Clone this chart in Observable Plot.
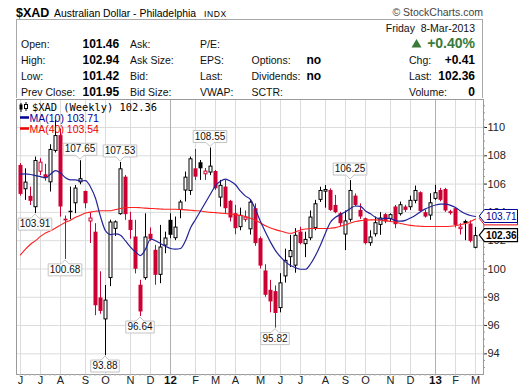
<!DOCTYPE html>
<html><head><meta charset="utf-8">
<script src="https://cdn.jsdelivr.net/npm/d3@7"></script>
<script src="https://cdn.jsdelivr.net/npm/@observablehq/plot@0.6"></script>
<style>
body{margin:0;background:#fff}
#wrap{width:520px;height:391px;position:relative;overflow:hidden;background:#fff}
svg{display:block}
</style></head><body><div id="wrap"></div>
<script>
// ---------- data ----------
const weekStart = "2011-06-06";   // Monday of first weekly candle
const weekEnd = "2013-03-04";     // Monday of last weekly candle
const priorClose = 107.5;
const opens = [107.32,105.60,105.13,104.33,106.84,106.66,106.09,108.31,109.43,103.52,
104.08,104.61,106.09,105.48,103.32,102.6,97.95,96.4,99.32,102.8,
103.84,106.49,103.44,102.26,98.85,99.32,102.45,101.32,99.55,101.62,
103.44,102.14,104.14,105.51,105.48,107.08,107.51,106.66,106.78,106.89,
105.01,105.79,104.78,103.91,102.92,103.44,102.77,104.26,102.14,99.86,
98.49,98.4,97.2,99.44,100.8,100.2,102.61,101.72,102.14,102.85,
104.85,105.43,105.55,104.49,103.91,102.4,103.44,105.15,104.14,103.55,
101.79,102.42,103.08,103.84,103.51,104.38,103.84,104.38,104.33,104.78,
105.39,103.98,103.74,104.92,105.55,105.62,103.91,104.26,102.78,103.36,
103.18,101.46];
const highs = [107.45,107.08,105.79,107.91,107.79,107.4,108.78,110.5,109.9,103.74,
105.79,105.9,107.65,105.5,103.98,103.2,99.8,98.83,103.45,103.4,
107.53,106.6,104.0,103.44,99.2,103.9,102.9,101.67,103.08,102.6,
103.9,103.67,104.85,106.85,107.91,108.45,107.67,107.1,108.55,106.96,
106.26,106.26,104.85,104.5,104.3,104.1,104.9,104.6,102.26,100.3,
99.2,98.8,99.67,101.4,102.38,102.85,102.95,102.6,104.1,104.85,
105.78,105.9,105.66,105.2,104.0,104.1,106.25,105.3,104.6,103.6,
102.7,103.67,103.98,103.91,103.9,104.49,104.73,104.5,105.15,105.86,
105.45,104.14,105.32,105.91,105.7,105.7,104.15,104.3,103.2,103.45,
103.4,102.94];
const lows = [105.15,104.85,104.49,103.91,106.61,106.2,105.44,108.2,103.67,100.68,
103.48,103.91,105.95,104.26,101.8,96.7,96.8,93.88,98.75,102.3,
103.8,103.44,102.1,99.65,96.64,99.2,101.95,98.85,98.96,101.08,
102.14,102.0,103.55,104.73,105.2,106.26,106.26,106.26,106.6,105.55,
104.38,103.91,103.32,102.42,102.7,103.3,102.4,101.6,100.0,98.0,
96.9,95.82,96.9,99.0,100.1,99.7,101.7,100.8,102.0,102.7,
104.7,104.3,104.07,103.91,103.0,101.3,103.3,104.4,103.5,101.7,
101.6,102.26,102.38,103.2,103.3,102.85,103.74,104.0,104.14,104.61,
104.0,103.6,103.44,104.85,104.75,104.0,103.8,102.9,102.4,102.0,
101.85,101.42];
const closes = [105.27,106.14,104.78,107.67,107.55,106.38,108.45,109.43,104.38,103.40,
103.98,105.72,106.38,104.61,103.60,97.4,97.0,97.8,103.32,103.33,
107.08,103.84,102.72,99.98,96.96,102.26,102.09,99.55,101.55,102.19,
102.38,102.96,104.73,106.49,107.79,106.49,107.08,106.92,107.27,105.67,
105.91,104.26,103.6,102.85,103.79,103.67,104.72,101.79,100.2,98.14,
97.67,96.85,99.02,100.61,101.3,102.38,101.79,102.09,103.67,104.61,
105.55,105.62,104.14,103.98,103.2,103.4,105.55,104.49,103.67,101.79,
102.26,103.27,103.6,103.32,103.84,103.13,104.54,104.14,104.85,105.55,
104.07,103.67,104.68,105.39,104.85,104.1,104.05,103.08,102.96,103.2,
101.95,102.36];
const ma10 = [106.7,106.72,106.68,106.6,106.53,106.45,106.7,106.95,106.78,106.45,
106.3,106.3,106.22,106.25,105.8,105.0,103.7,102.7,102.43,102.48,
102.38,101.98,101.55,101.2,100.95,101.4,102.1,102.0,101.8,101.6,
101.45,101.4,101.45,102.0,102.9,103.5,104.1,104.7,105.3,105.9,
106.2,106.35,106.2,105.95,105.5,105.15,104.9,104.2,103.35,102.6,
101.9,101.3,100.85,100.5,100.25,100.1,99.98,99.98,100.35,100.95,
101.7,102.55,103.3,103.65,103.85,104.05,104.28,104.45,104.42,104.1,
103.9,103.65,103.52,103.6,103.55,103.42,103.38,103.44,103.6,103.8,
104.05,104.25,104.4,104.52,104.58,104.58,104.5,104.35,104.1,103.9,
103.78,103.71];
const ma40 = [101.0,101.4,101.75,102.0,102.3,102.55,102.7,102.9,103.1,103.3,
103.45,103.65,103.8,103.95,104.02,104.08,104.12,104.12,104.12,104.2,
104.28,104.33,104.35,104.35,104.33,104.3,104.28,104.26,104.24,104.22,
104.22,104.22,104.2,104.18,104.15,104.12,104.1,104.05,104.0,103.98,
103.95,103.92,103.88,103.84,103.78,103.7,103.58,103.45,103.25,103.05,
102.9,102.78,102.68,102.58,102.52,102.62,102.75,102.82,102.86,102.86,
102.86,102.86,102.88,102.92,103.02,103.12,103.25,103.35,103.42,103.45,
103.47,103.47,103.45,103.42,103.36,103.3,103.22,103.14,103.08,103.04,
103.02,103.0,103.0,103.0,103.0,103.0,103.02,103.06,103.14,103.22,
103.36,103.54];
const yTicks = [94,96,98,100,102,104,106,108,110];
const monthLetters = ["J","F","M","A","M","J","J","A","S","O","N","D"];
const calloutIdx = [3,9,12,17,20,24,38,51,66];
const calloutKind = ["low","low","high","low","high","low","high","low","high"];

// header texts
const headTitle = "$XAD", headName = "Australian Dollar - Philadelphia", headExch = "INDX";
const headDate = "Friday  8-Mar-2013", headPct = "+0.40%";
const col1Labels = ["Open:","High:","Low:","Prev Close:"];
const col1Values = ["101.46","102.94","101.42","101.95"];
const col2Labels = ["Ask:","Ask Size:","Bid:","Bid Size:"];
const col3Labels = ["P/E:","EPS:","Last:","VWAP:"];
const col4Labels = ["","Options:","Dividends:","SCTR:"];
const col4Values = ["","no","no",""];
const col5Labels = ["","Chg:","Last:","Volume:"];
const col5Values = ["","+0.41","102.36","0"];
const legendMain = "$XAD (Weekly) 102.36", legendMA10 = "MA(10) 103.71", legendMA40 = "MA(40) 103.54";
const lastMA10 = 103.71, lastMA40 = 103.54, lastClose = 102.36;

// ---------- derived ----------
const SANS = "'Liberation Sans', Arial, Helvetica, sans-serif";
const RED = "#cc0033", INK = "#000", BLUE = "#22229a", MARED = "#ff1f1f";
const fmtKey = d3.utcFormat("%Y-%m-%d");
const weekKeys = d3.utcMonday.range(new Date(weekStart), d3.utcDay.offset(new Date(weekEnd), 1)).map(fmtKey);
const candles = weekKeys.map((week, i) => ({
  week, open: opens[i], high: highs[i], low: lows[i], close: closes[i],
  ma10: ma10[i], ma40: ma40[i], prev: i ? closes[i - 1] : priorClose
}));
const colr = d => d.close < d.prev ? RED : INK;
const bTop = d => Math.max(d.open, d.close), bBot = d => Math.min(d.open, d.close);
const monthTicks = weekKeys.filter((w, i) => i === 0 || w.slice(5, 7) !== weekKeys[i - 1].slice(5, 7));
const isJan = w => w.slice(5, 7) === "01";
const tickLabel = w => isJan(w) ? w.slice(2, 4) : monthLetters[+w.slice(5, 7) - 1];

// ---------- header ----------
const wrap = document.getElementById("wrap");
const hdr = d3.create("svg").attr("width", 520).attr("height", 98).attr("font-family", SANS);
function T(x, y, s, o = {}) {
  const e = hdr.append("text").attr("x", x).attr("y", y).text(s)
    .attr("font-size", o.size || 10.5).attr("fill", o.fill || "#111");
  if (o.bold) e.attr("font-weight", "bold");
  if (o.anchor) e.attr("text-anchor", o.anchor);
  if (o.ls) e.attr("letter-spacing", o.ls);
  e.style("white-space", "pre");
  return e;
}
hdr.append("rect").attr("x", 16.5).attr("y", 19.5).attr("width", 466).attr("height", 82)
  .attr("fill", "none").attr("stroke", "#a8a8a8");
T(16, 16.5, headTitle, {size: 12.5, bold: true, fill: "#000"});
T(54, 16.5, headName, {size: 10.4, fill: "#000"});
T(204, 16.5, headExch, {size: 8.5, ls: 0.6, fill: "#000"});
T(483, 15.5, "\u00A9 StockCharts.com", {size: 10.5, anchor: "end", fill: "#444"});
T(475, 32, headDate, {size: 10.5, anchor: "end"});
hdr.append("path").attr("d", "M411.5,47.5 L416.5,39 L421.5,47.5 Z").attr("fill", "#3a7a3a");
T(475, 48, headPct, {size: 14, bold: true, anchor: "end", fill: "#3a7a3a"});
const rows = [48, 64, 80, 95.5];
rows.forEach((ry, r) => {
  T(21, ry, col1Labels[r]);
  T(82.5, ry, col1Values[r], {size: 12, bold: true, fill: "#000"});
  T(130, ry, col2Labels[r]);
  T(200, ry, col3Labels[r]);
  if (col4Labels[r]) T(251.5, ry, col4Labels[r]);
  if (col4Values[r]) T(306.5, ry, col4Values[r], {size: 12, bold: true, fill: "#000"});
  if (col5Labels[r]) T(409, ry, col5Labels[r]);
  if (col5Values[r]) T(475, ry, col5Values[r], {size: 12, bold: true, anchor: "end", fill: "#000"});
});
wrap.appendChild(hdr.node());

// ---------- overlay drawn with the plot's scales ----------
function overlay(index, scales, values, dims) {
  const {x, y} = scales;
  const g = d3.create("svg:g").attr("font-family", SANS).attr("text-anchor", "start");
  const L = dims.marginLeft, R = dims.width - dims.marginRight, B = dims.height - dims.marginBottom;
  // minor ticks on the right axis
  const dom = y.domain ? y.domain() : [92.54, 111.98];
  const lo = Math.min(...dom), hi = Math.max(...dom);
  for (let v = Math.ceil(lo * 2) / 2; v <= hi; v += 0.5)
    g.append("line").attr("x1", R).attr("x2", R + 2).attr("y1", y(v)).attr("y2", y(v)).attr("stroke", "#999");
  // weekly ticks on the time axis
  for (const c of candles)
    g.append("line").attr("x1", x(c.week)).attr("x2", x(c.week)).attr("y1", B).attr("y2", B + 2).attr("stroke", "#bbb");
  // callouts
  calloutIdx.forEach((ci, k) => {
    const c = candles[ci], kind = calloutKind[k];
    const v = kind === "high" ? c.high : c.low;
    const s = v.toFixed(2);
    const cx = x(c.week), py = y(v);
    const w = s.length * 5.1 + 3, h = 12;
    const l = cx - w / 2, r = cx + w / 2;
    let d, ty;
    if (kind === "high") {
      const bb = py - 5, tt = bb - h;
      d = `M${l},${tt}H${r}V${bb}H${cx + 4}L${cx},${py - 1}L${cx - 4},${bb}H${l}Z`;
      ty = bb - 2.8;
    } else {
      const tt = py + 5, bb = tt + h;
      d = `M${l},${tt}H${cx - 4}L${cx},${py + 1}L${cx + 4},${tt}H${r}V${bb}H${l}Z`;
      ty = bb - 2.8;
    }
    g.append("path").attr("d", d).attr("fill", "#fff").attr("stroke", "#c4c4c4");
    g.append("text").attr("x", cx).attr("y", ty).attr("text-anchor", "middle")
      .attr("font-size", 10).attr("fill", "#111").text(s);
  });
  // legend
  const ic = g.append("g").attr("stroke", "#000").attr("fill", "#000");
  ic.append("line").attr("x1", L + 5).attr("x2", L + 5).attr("y1", 5).attr("y2", 14);
  ic.append("rect").attr("x", L + 4).attr("y", 7).attr("width", 2).attr("height", 4);
  ic.append("line").attr("x1", L + 10).attr("x2", L + 10).attr("y1", 4).attr("y2", 13);
  ic.append("rect").attr("x", L + 8.5).attr("y", 6.5).attr("width", 3).attr("height", 4).attr("fill", "#fff");
  g.append("text").attr("x", L + 16).attr("y", 12.5).attr("font-family", "'DejaVu Sans Mono', monospace")
    .attr("font-size", 10.4).attr("fill", "#000").text(legendMain);
  g.append("line").attr("x1", L + 4).attr("x2", L + 13).attr("y1", 19.5).attr("y2", 19.5).attr("stroke", "#000099").attr("stroke-width", 2.5);
  g.append("text").attr("x", L + 13.5).attr("y", 23.5).attr("font-size", 10.5).attr("fill", "#000099").text(legendMA10);
  g.append("line").attr("x1", L + 4).attr("x2", L + 13).attr("y1", 30.5).attr("y2", 30.5).attr("stroke", "#ee0000").attr("stroke-width", 2.5);
  g.append("text").attr("x", L + 13.5).attr("y", 34.5).attr("font-size", 10.5).attr("fill", "#ee0000").text(legendMA40);
  // last-value tags on the right
  function tag(v, stroke, fill, bold, showText) {
    const yc = y(v);
    g.append("path").attr("d", `M${R - 3.7},${yc}L${R + 1.5},${yc - 6.5}H517.5V${yc + 6.5}H${R + 1.5}Z`)
      .attr("fill", "#fff").attr("stroke", stroke).attr("stroke-width", bold ? 1.2 : 1);
    if (showText)
      g.append("text").attr("x", R + 3).attr("y", yc + 3.6).attr("font-size", 10)
        .attr("font-weight", bold ? "bold" : "normal").attr("fill", fill).text(v.toFixed(2));
  }
  tag(lastMA40, "#ee0000", "#ee0000", false, false);
  tag(lastMA10, "#000099", "#000099", false, true);
  tag(lastClose, "#000", "#000", true, true);
  return g.node();
}

// ---------- chart ----------
const chart = Plot.plot({
  width: 520, height: 293,
  marginTop: 1, marginBottom: 17, marginLeft: 16, marginRight: 37,
  style: {fontFamily: SANS, fontSize: "11px", color: "#222", background: "transparent", overflow: "visible"},
  x: {type: "point", domain: weekKeys, padding: 0, insetLeft: 3.7, insetRight: 7.7, axis: null},
  y: {domain: [92.54, 111.98], axis: "right", ticks: yTicks, tickSize: 3, tickPadding: 1, label: null, tickFormat: d => String(d)},
  color: {type: "identity"},
  marks: [
    Plot.ruleY(yTicks, {stroke: "#dcdcdc"}),
    Plot.ruleX(monthTicks.filter(w => !isJan(w)), {x: d => d, stroke: "#dcdcdc"}),
    Plot.ruleX(monthTicks.filter(isJan), {x: d => d, stroke: "#b0b0b0"}),
    Plot.frame({stroke: "#9a9a9a"}),
    Plot.ruleX(candles, {x: "week", y1: "low", y2: "high", stroke: colr, strokeWidth: 1}),
    Plot.ruleX(candles, {x: "week", y1: bTop, y2: bBot, stroke: colr, strokeWidth: 4}),
    Plot.ruleX(candles.filter(d => d.close - d.open > 0.15), {x: "week", y1: bTop, y2: bBot, stroke: "#fff", strokeWidth: 2, insetTop: 1, insetBottom: 1}),
    Plot.line(candles, {x: "week", y: "ma40", stroke: MARED, strokeWidth: 1.1, curve: "monotone-x"}),
    Plot.line(candles, {x: "week", y: "ma10", stroke: BLUE, strokeWidth: 1.2, curve: "monotone-x"}),
    Plot.text(monthTicks.filter(w => !isJan(w)), {x: d => d, text: tickLabel, frameAnchor: "bottom", dy: 9, fill: "#222", fontSize: 11}),
    Plot.text(monthTicks.filter(isJan), {x: d => d, text: tickLabel, frameAnchor: "bottom", dy: 9, fill: "#111", fontSize: 11.5, fontWeight: "bold"}),
    overlay
  ]
});
wrap.appendChild(chart);
</script>
</body></html>
